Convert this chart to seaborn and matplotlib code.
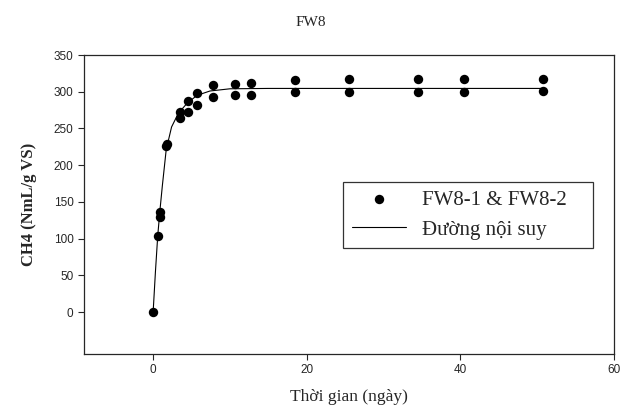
import matplotlib
matplotlib.use("Agg")
import matplotlib.pyplot as plt
import seaborn as sns
import pandas as pd

# measured points (both replicates)
days = [0, 0.6, 0.85, 0.85, 1.7, 1.75, 3.5, 3.5, 4.6, 4.6, 5.7, 5.7, 7.8, 7.8,
        10.6, 10.6, 12.8, 12.8, 18.5, 18.5, 25.5, 25.5, 34.5, 34.5, 40.5, 40.5, 50.8, 50.8]
ch4 = [0, 104, 129, 136, 226, 229, 264, 273, 273, 288, 282, 298, 293, 309,
       295, 311, 295, 312, 299, 316, 300, 317, 300, 317, 300, 317, 301, 318]

# fitted curve
fit_days = [0, 0.3, 0.6, 0.9, 1.2, 1.7, 2.4, 3.3, 4.4, 5.7, 7.4, 10, 15, 25, 40, 51]
fit_ch4 = [0, 55, 104, 140, 172, 221, 252, 271, 284, 295, 301, 304, 304.5, 304.5, 304.5, 304.5]

pts = pd.DataFrame({"day": days, "ch4": ch4})
fit = pd.DataFrame({"day": fit_days, "ch4": fit_ch4})

sns.set_style("ticks")
serif = ["Liberation Serif", "DejaVu Serif"]
sans = ["Liberation Sans", "DejaVu Sans"]

fig = plt.figure(figsize=(6.21, 4.08), dpi=100)
ax = fig.add_axes([84 / 621, 1 - 354 / 408, 530 / 621, 299 / 408])

sns.scatterplot(data=pts, x="day", y="ch4", ax=ax, color="black", s=46,
                edgecolor="black", linewidth=0, label="FW8-1 & FW8-2", zorder=3)
sns.lineplot(data=fit, x="day", y="ch4", ax=ax, color="black", linewidth=0.8,
             label="Đường nội suy", zorder=2)

ax.set_xlim(-9, 60)
ax.set_ylim(-57, 350)
ax.set_xticks([0, 20, 40, 60])
ax.set_yticks(range(0, 351, 50))
for lab in ax.get_xticklabels() + ax.get_yticklabels():
    lab.set_family(sans)
    lab.set_fontsize(8.5)
ax.tick_params(direction="out", length=4, width=0.8, top=False, right=False)
for sp in ax.spines.values():
    sp.set_visible(True)
    sp.set_linewidth(0.9)

ax.set_xlabel("Thời gian (ngày)", family=serif, fontsize=12.5, labelpad=9)
ax.set_ylabel("CH4 (NmL/g VS)", family=serif, fontsize=12, fontweight="bold", labelpad=12)
fig.text(0.5, 1 - 22 / 408, "FW8", family=serif, fontsize=11, ha="center", va="center")

leg = ax.legend(loc="lower left", bbox_to_anchor=(0.489, 0.355, 0.471, 0.22), mode="expand",
                frameon=True, fancybox=False, shadow=False, edgecolor="black",
                prop={"family": serif, "size": 15}, handlelength=2.6, borderpad=0.4,
                labelspacing=0.5, handletextpad=0.8, borderaxespad=0)
leg.get_frame().set_linewidth(0.9)

fig.savefig("out.png", dpi=100)
